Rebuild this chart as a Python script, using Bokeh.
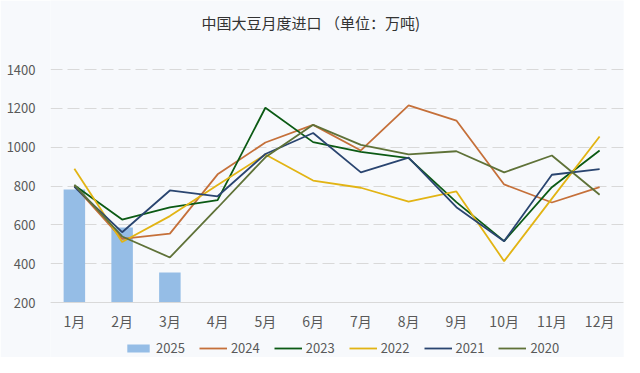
from bokeh.plotting import figure
from bokeh.models import Legend, LegendItem, ColumnDataSource, FixedTicker, Span, Label
from bokeh.core.properties import value
from bokeh.embed import file_html
from bokeh.resources import INLINE

months = ["1月", "2月", "3月", "4月", "5月", "6月", "7月", "8月", "9月", "10月", "11月", "12月"]
bars_2025 = [782, 586, 355]
y2024 = [800, 528, 555, 860, 1024, 1115, 983, 1215, 1137, 808, 715, 794]
y2023 = [804, 627, 690, 727, 1203, 1026, 976, 944, 717, 516, 794, 983]
y2022 = [889, 512, 645, 805, 962, 828, 791, 720, 772, 413, 735, 1055]
y2021 = [795, 562, 777, 747, 965, 1073, 870, 946, 691, 516, 858, 887]
y2020 = [806, 540, 432, 688, 948, 1115, 1012, 963, 979, 870, 957, 755]
yticks = [200, 400, 600, 800, 1000, 1200, 1400]
title_text = "中国大豆月度进口 （单位：万吨)"

FONT = "Noto Sans CJK SC"
BG = "#f7f9fc"

W, H = 624, 357
TOP_PX, BOT_PX = 69, 302          # pixel rows of 1400 and 200
YMIN, YMAX = 200, 1400
upp = (YMAX - YMIN) / (BOT_PX - TOP_PX)   # data units per pixel
y_start = YMIN - (H - BOT_PX) * upp
y_end = YMAX + TOP_PX * upp

p = figure(x_range=months, y_range=(y_start, y_end), width=W, height=H,
           output_backend="svg", toolbar_location=None,
           min_border_left=50, min_border_right=1, min_border_top=0, min_border_bottom=0,
           background_fill_color=BG, border_fill_color=BG)
p.outline_line_color = None
p.xaxis.visible = False

src25 = ColumnDataSource(dict(x=months[:3], top=bars_2025))
r25 = p.vbar(x="x", top="top", bottom=YMIN, width=0.45, source=src25,
             fill_color="#95bde6", line_color=None)

series = [("2024", y2024, "#c5703a"), ("2023", y2023, "#0b5a14"), ("2022", y2022, "#e2b414"),
          ("2021", y2021, "#2a4570"), ("2020", y2020, "#5f7238")]
items = [LegendItem(label="2025", renderers=[r25])]
for name, vals, col in series:
    r = p.line(months, vals, line_color=col, line_width=1.8)
    items.append(LegendItem(label=name, renderers=[r]))

# x axis line and month labels
p.add_layout(Span(location=YMIN, dimension="width", line_color="#d9d9d9", line_width=1))
p.text(x=months, y=[YMIN - 18 * upp] * len(months), text=months,
       text_font=value(FONT), text_font_size="14px", text_color="#595959",
       text_align="center", text_baseline="middle")

# title
p.add_layout(Label(x=5.45, y=YMAX + (TOP_PX - 22) * upp, text=title_text,
                   text_font=FONT, text_font_size="15px", text_color="#333333",
                   text_align="center", text_baseline="middle"))

legend = Legend(items=items, orientation="horizontal", location=(74, 0),
                background_fill_alpha=0, border_line_color=None,
                label_text_font=FONT, label_text_font_size="13px", label_text_color="#595959",
                glyph_width=28, glyph_height=10, label_height=16, label_standoff=4, spacing=14,
                margin=0, padding=0)
p.add_layout(legend, "center")

p.yaxis.ticker = FixedTicker(ticks=yticks)
p.yaxis.major_tick_line_color = None
p.yaxis.minor_tick_line_color = None
p.yaxis.major_label_text_font = FONT
p.yaxis.major_label_text_color = "#595959"
p.yaxis.major_label_text_font_size = "13px"
p.yaxis.axis_line_color = None
p.yaxis.major_label_standoff = 9

p.xgrid.grid_line_color = None
p.ygrid.grid_line_color = "#d9d9d9"
p.ygrid.grid_line_dash = "12 5"
p.ygrid.grid_line_width = 1

open("out.html", "w").write(file_html(p, INLINE))
